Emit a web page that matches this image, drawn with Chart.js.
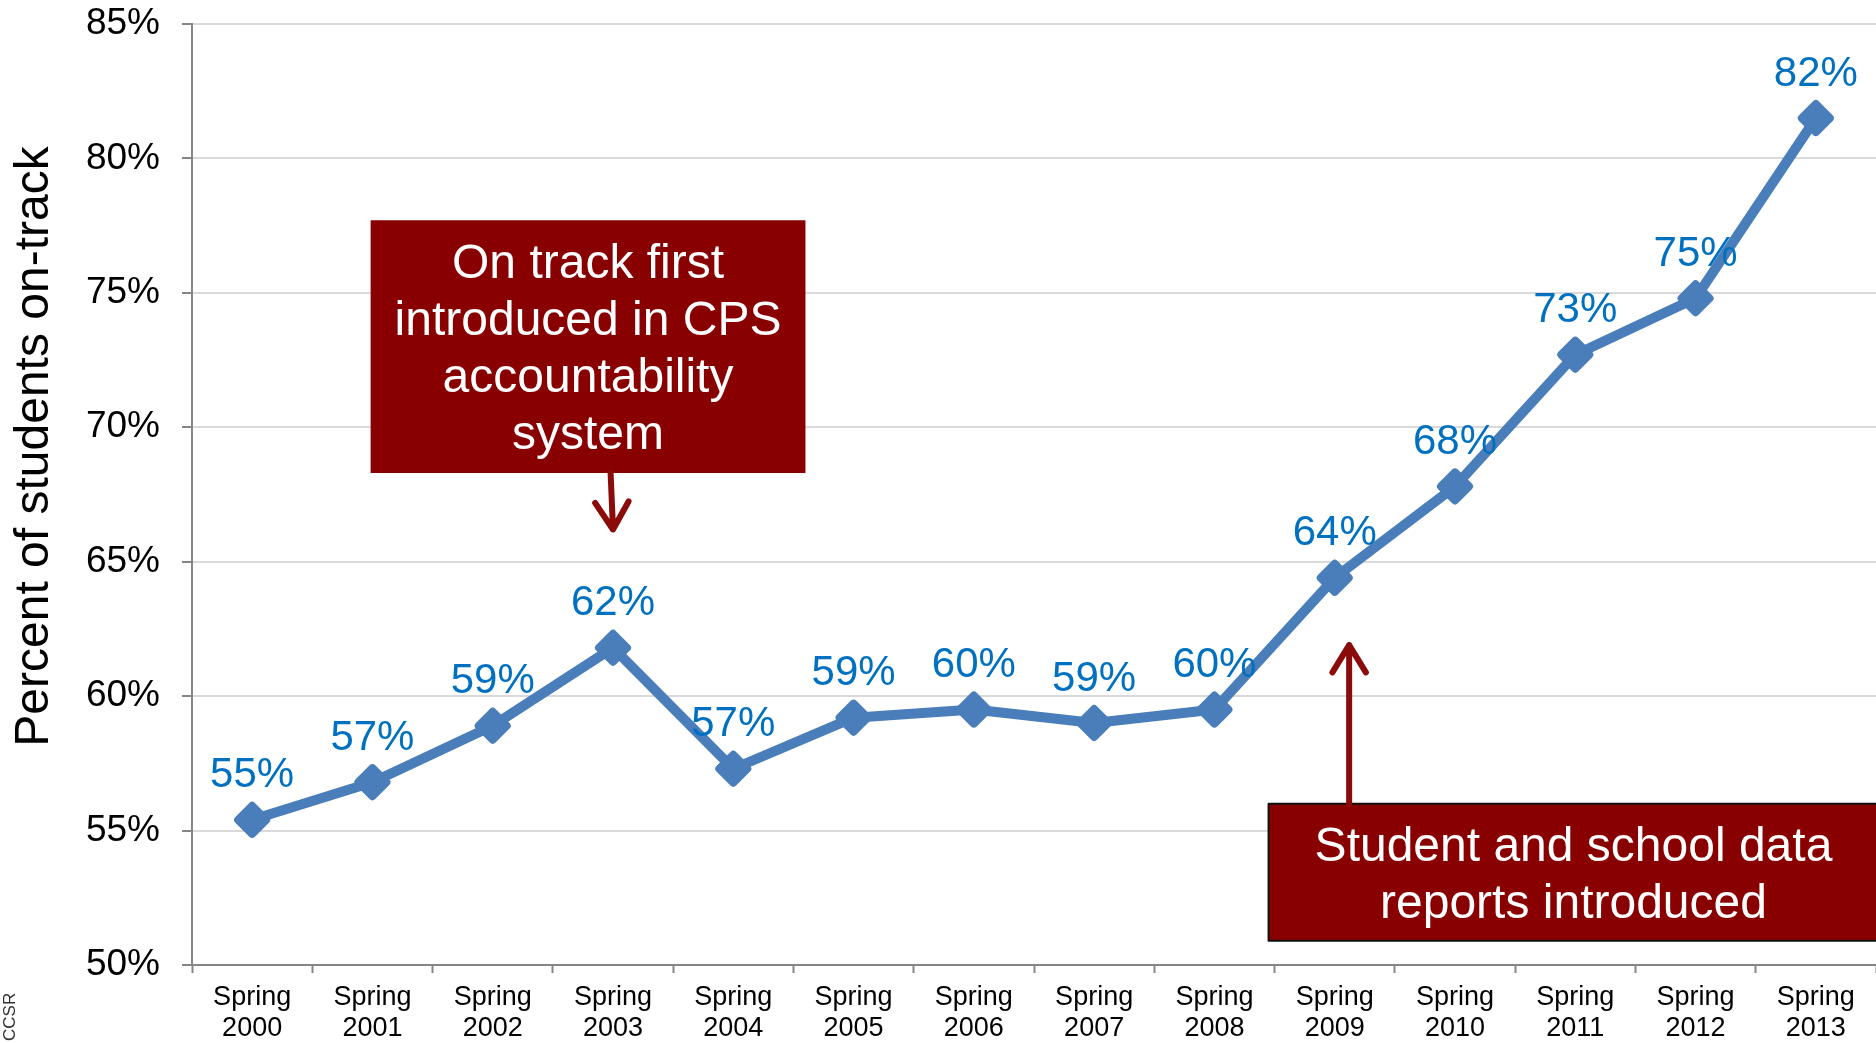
<!DOCTYPE html>
<html>
<head>
<meta charset="utf-8">
<script src="https://cdn.jsdelivr.net/npm/chart.js@4"></script>
<style>
  html, body { margin: 0; padding: 0; background: #fff; }
  canvas { display: block; }
</style>
</head>
<body>
<canvas id="onTrackChart" width="1876" height="1043"></canvas>
<script>
const FONT = '"Liberation Sans", Arial, sans-serif'

// data
const seasons  = ['2000','2001','2002','2003','2004','2005','2006','2007','2008','2009','2010','2011','2012','2013']
const onTrack  = [55.4, 56.8, 58.9, 61.8, 57.3, 59.2, 59.5, 59.0, 59.5, 64.4, 67.8, 72.7, 74.8, 81.5]
const yTicks   = [50, 55, 60, 65, 70, 75, 80, 85]

const axisTitle = 'Percent of students on-track'
const sourceTag = 'CCSR'

// callouts, placed in axis units (category index / percent)
const callouts = [
  { lines: ['On track first', 'introduced in CPS', 'accountability', 'system'],
    x0: 0.985, x1: 4.6, y0: 77.7, y1: 68.3, border: false,
    arrow: { xFrom: 2.98, yFrom: 68.3, xTo: 3.0, yTo: 66.2 } },
  { lines: ['Student and school data', 'reports introduced'],
    x0: 8.45, x1: 13.52, y0: 56.0, y1: 50.9, border: true,
    arrow: { xFrom: 9.12, yFrom: 56.0, xTo: 9.12, yTo: 61.9 } },
]

const valueLabels = {
  id: 'valueLabels',
  beforeDatasetsDraw(chart) {
    // rounded diamond corners
    chart.ctx.lineJoin = 'round'
  },
  afterDatasetsDraw(chart) {
    const { ctx } = chart
    const meta = chart.getDatasetMeta(0)
    ctx.save()
    ctx.font = `42px ${FONT}`
    ctx.fillStyle = '#0070c0'
    ctx.textAlign = 'center'
    ctx.textBaseline = 'middle'
    meta.data.forEach((pt, i) => ctx.fillText(Math.round(onTrack[i]) + '%', pt.x, pt.y - 44))
    ctx.restore()
  }
}

const calloutPlugin = {
  id: 'callouts',
  afterDraw(chart) {
    const { ctx, scales: { x, y } } = chart
    ctx.save()
    callouts.forEach(c => {
      const left = x.getPixelForValue(c.x0), right = x.getPixelForValue(c.x1)
      const top = y.getPixelForValue(c.y0), bottom = y.getPixelForValue(c.y1)
      ctx.fillStyle = '#880000'
      ctx.fillRect(left, top, right - left, bottom - top)
      if (c.border) {
        ctx.strokeStyle = '#111'
        ctx.lineWidth = 2
        ctx.strokeRect(left, top, right - left, bottom - top)
      }
      ctx.fillStyle = '#fff'
      ctx.font = `48px ${FONT}`
      ctx.textAlign = 'center'
      ctx.textBaseline = 'middle'
      const lh = 57
      const cy = (top + bottom) / 2 + 4 - (c.lines.length - 1) * lh / 2
      c.lines.forEach((t, i) => ctx.fillText(t, (left + right) / 2, cy + i * lh))

      // arrow
      const a = c.arrow
      const x1 = x.getPixelForValue(a.xFrom), y1 = y.getPixelForValue(a.yFrom)
      const x2 = x.getPixelForValue(a.xTo),   y2 = y.getPixelForValue(a.yTo)
      const ang = Math.atan2(y2 - y1, x2 - x1)
      ctx.strokeStyle = '#8b0a0a'
      ctx.lineWidth = 6
      ctx.lineCap = 'round'
      ctx.lineJoin = 'round'
      ctx.beginPath()
      ctx.moveTo(x1, y1)
      ctx.lineTo(x2, y2)
      ctx.moveTo(x2 - 32 * Math.cos(ang - 0.55), y2 - 32 * Math.sin(ang - 0.55))
      ctx.lineTo(x2, y2)
      ctx.lineTo(x2 - 32 * Math.cos(ang + 0.55), y2 - 32 * Math.sin(ang + 0.55))
      ctx.stroke()
    })

    // y axis title + source tag
    const area = chart.chartArea
    ctx.fillStyle = '#000'
    ctx.font = `48px ${FONT}`
    ctx.textAlign = 'center'
    ctx.textBaseline = 'middle'
    ctx.save()
    ctx.translate(35, area.top + (area.bottom - area.top) * 0.449)
    ctx.rotate(-Math.PI / 2)
    ctx.fillText(axisTitle, 0, 0)
    ctx.restore()

    ctx.font = `17px ${FONT}`
    ctx.fillStyle = '#333'
    ctx.textAlign = 'left'
    ctx.save()
    ctx.translate(10, chart.height - 2)
    ctx.rotate(-Math.PI / 2)
    ctx.fillText(sourceTag, 0, 0)
    ctx.restore()
    ctx.restore()
  }
}

new Chart(document.getElementById('onTrackChart'), {
  type: 'line',
  data: {
    labels: seasons.map(s => ['Spring', s]),
    datasets: [{
      data: onTrack,
      borderColor: '#4a7ebb',
      backgroundColor: '#4a7ebb',
      borderWidth: 10,
      borderJoinStyle: 'round',
      tension: 0,
      pointStyle: 'rectRot',
      pointRadius: 14,
      pointBorderWidth: 8,
      pointBackgroundColor: '#4a7ebb',
      pointBorderColor: '#4a7ebb',
      clip: false,
    }]
  },
  plugins: [valueLabels, calloutPlugin],
  options: {
    responsive: false,
    animation: false,
    devicePixelRatio: 1,
    layout: { autoPadding: false, padding: { left: 0, right: 0, top: 24, bottom: 0 } },
    plugins: { legend: { display: false }, tooltip: { enabled: false } },
    scales: {
      x: {
        offset: true,
        grid: { offset: true, drawOnChartArea: false, tickLength: 8, tickColor: '#868686', tickWidth: 2 },
        border: { color: '#868686', width: 2 },
        ticks: { color: '#000', font: { family: FONT, size: 27, lineHeight: 1.15 }, padding: 9, maxRotation: 0, autoSkip: false },
        afterFit: s => { s.height = 78; s.paddingLeft = 0; s.paddingRight = 0 }
      },
      y: {
        min: 50, max: 85,
        afterBuildTicks: s => { s.ticks = yTicks.map(v => ({ value: v })) },
        grid: { color: '#d9d9d9', lineWidth: 2, tickLength: 10, tickColor: '#868686', tickWidth: 2 },
        border: { color: '#868686', width: 2 },
        ticks: { color: '#000', font: { family: FONT, size: 37 }, padding: 22, callback: v => v + '%' },
        afterFit: s => { s.width = 192; s.paddingTop = 0; s.paddingBottom = 0 }
      }
    }
  }
})
</script>
</body>
</html>
